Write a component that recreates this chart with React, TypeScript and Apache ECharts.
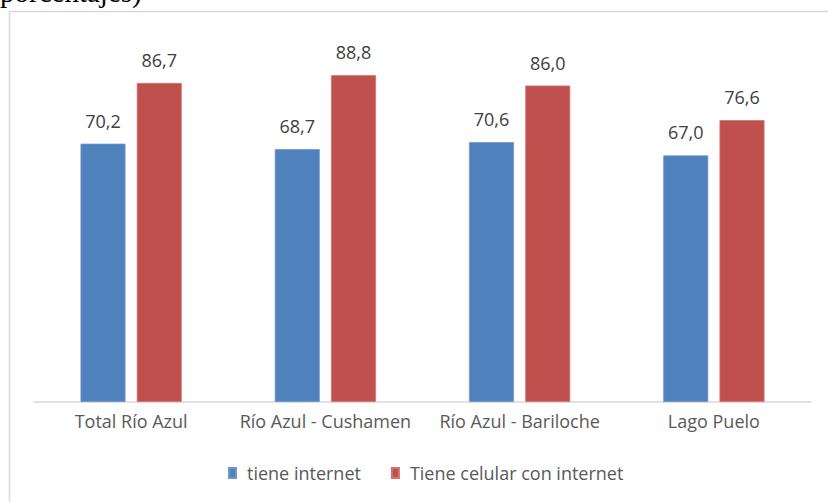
import React, { useEffect, useRef } from "react";
import * as echarts from "echarts";

const categories = ["Total Río Azul", "Río Azul - Cushamen", "Río Azul - Bariloche", "Lago Puelo"];
const tieneInternet = [70.2, 68.7, 70.6, 67.0];
const celularInternet = [86.7, 88.8, 86.0, 76.6];
const seriesNames = ["tiene internet", "Tiene celular con internet"];

const FONT = "'Open Sans', 'Noto Sans', sans-serif";
const fmt = (v: number) => v.toFixed(1).replace(".", ",");

export default function App() {
  const ref = useRef<HTMLDivElement>(null);
  useEffect(() => {
    document.body.style.margin = "0";
    const chart = echarts.init(ref.current!, undefined, { renderer: "svg" });
    const label = {
      show: true,
      position: "top" as const,
      distance: 14,
      color: "#404040",
      fontFamily: FONT,
      fontSize: 18,
      formatter: (p: any) => fmt(p.value),
    };
    chart.setOption({
      animation: false,
      backgroundColor: "#ffffff",
      graphic: [
        {
          type: "rect",
          shape: { x: 9.5, y: 11.5, width: 900, height: 600 },
          style: { fill: "none", stroke: "#d9d9d9", lineWidth: 1.5 },
          silent: true,
        },
        {
          type: "text",
          left: 0,
          top: -23,
          style: {
            text: "porcentajes)",
            fontFamily: "'Liberation Serif', 'DejaVu Serif', serif",
            fontSize: 29,
            fill: "#000000",
          },
        },
      ],
      grid: { left: 34, right: 17, top: 34, bottom: 100 },
      legend: {
        top: 459,
        left: 223,
        itemWidth: 7,
        itemHeight: 10,
        itemGap: 30,
        icon: "rect",
        textStyle: { color: "#595959", fontFamily: FONT, fontSize: 18, padding: [0, 0, 0, 6] },
        data: seriesNames,
      },
      xAxis: {
        type: "category",
        data: categories,
        axisLine: { lineStyle: { color: "#d9d9d9", width: 1.5 } },
        axisTick: { show: false },
        axisLabel: { color: "#595959", fontFamily: FONT, fontSize: 18, margin: 10, interval: 0 },
      },
      yAxis: {
        type: "value",
        min: 0,
        max: 100,
        show: false,
        splitLine: { show: false },
      },
      series: [
        {
          name: seriesNames[0],
          type: "bar",
          data: tieneInternet,
          barWidth: 45,
          barGap: "25%",
          itemStyle: { color: "#4F81BD", borderColor: "#6f97c9", borderWidth: 0.8 },
          label,
        },
        {
          name: seriesNames[1],
          type: "bar",
          data: celularInternet,
          barWidth: 45,
          itemStyle: { color: "#C0504D", borderColor: "#cf7471", borderWidth: 0.8 },
          label,
        },
      ],
    });
    return () => chart.dispose();
  }, []);
  return <div ref={ref} style={{ position: "fixed", left: 0, top: 0, width: 828, height: 502 }} />;
}
